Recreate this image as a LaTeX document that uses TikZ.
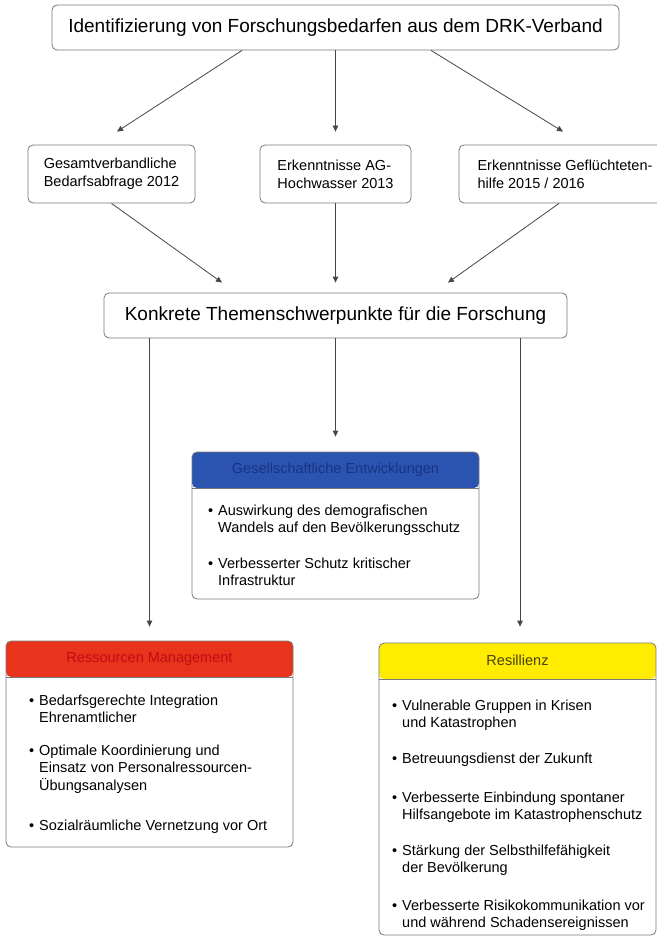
\documentclass[tikz,border=0pt]{standalone}
\usepackage{fontspec}
\setmainfont{Liberation Sans}
\usepackage{tikz}
\usetikzlibrary{arrows.meta, positioning, calc}

\definecolor{rahmen}{RGB}{120,120,120}
\definecolor{linie}{RGB}{70,70,70}
\definecolor{blau}{RGB}{42,84,176}
\definecolor{blaudunkel}{RGB}{24,52,130}
\definecolor{rot}{RGB}{232,52,28}
\definecolor{rotdunkel}{RGB}{190,12,20}
\definecolor{gelb}{RGB}{255,236,0}
\definecolor{gelbdunkel}{RGB}{70,66,10}

% Aufzaehlungspunkt mit haengendem Einzug
\newcommand{\eintrag}[1]{\llap{\textbullet\hspace{5pt}}\begin{tabular}[t]{@{}l@{}}#1\end{tabular}}

\tikzset{
  kasten/.style={draw=rahmen, line width=0.8pt, rounded corners=5pt, fill=white, inner sep=0pt},
  gross/.style={kasten, font=\fontsize{19}{23}\selectfont, minimum height=45},
  mittel/.style={kasten, align=left, font=\fontsize{14.5}{18}\selectfont, minimum height=58},
  kopf/.style={kasten, path picture={
      \fill[#1] (path picture bounding box.north west) rectangle ([yshift=-36pt]path picture bounding box.north east);
      \draw[rahmen, line width=0.8pt] ([yshift=-36pt]path picture bounding box.north west) -- ([yshift=-36pt]path picture bounding box.north east);}},
  kopftext/.style={font=\fontsize{14.5}{17}\selectfont},
  punkt/.style={anchor=base west, inner sep=0pt, font=\fontsize{14.5}{17.5}\selectfont},
  pfeil/.style={draw=linie, line width=0.8pt, -{Triangle[length=6pt,width=5.5pt]}}
}

\begin{document}
\begin{tikzpicture}[x=1pt, y=-1pt]
\useasboundingbox (0,0) rectangle (656,936);

% obere Ebene
\node[gross, minimum width=567] (top) at (335.5,27.5) {Identifizierung von Forschungsbedarfen aus dem DRK-Verband};

\node[mittel, minimum width=167] (gesamt) at (111.5,174) {Gesamtverbandliche\\Bedarfsabfrage 2012};
\node[mittel, minimum width=151] (hoch) at (335.5,174) {Erkenntnisse AG-\\Hochwasser 2013};
\node[mittel, minimum width=212] (gefl) at (565,174) {Erkenntnisse Geflüchteten-\\hilfe 2015 / 2016};

\node[gross, minimum width=463] (konkret) at (335.5,315.5) {Konkrete Themenschwerpunkte für die Forschung};

\draw[pfeil] ($(top.south)+(-93.5,0)$) -- ($(gesamt.north)+(5.5,-13)$);
\draw[pfeil] (top.south) -- ($(hoch.north)+(0,-13)$);
\draw[pfeil] ($(top.south)+(95.5,0)$) -- ($(gefl.north)+(-2,-13)$);

\draw[pfeil] (gesamt.south) -- ($(konkret.north)+(-113.5,-10)$);
\draw[pfeil] (hoch.south) -- ($(konkret.north)+(0,-10)$);
\draw[pfeil] ($(gefl.south)+(-6,0)$) -- ($(konkret.north)+(112.5,-10)$);

% Themenfelder
\node[kopf=blau, minimum width=287, minimum height=147] (gesell) at (335.5,525.5) {};
\node[kopftext, text=blaudunkel] at ($(gesell.north)+(0,18)$) {Gesellschaftliche Entwicklungen};
\node[punkt] at (218,515) {\eintrag{Auswirkung des demografischen\\Wandels auf den Bevölkerungsschutz}};
\node[punkt] at (218,568) {\eintrag{Verbesserter Schutz kritischer\\Infrastruktur}};

\node[kopf=rot, minimum width=287, minimum height=206] (ress) at (149.5,744) {};
\node[kopftext, text=rotdunkel] at ($(ress.north)+(0,18.5)$) {Ressourcen Management};
\node[punkt] at (39,705) {\eintrag{Bedarfsgerechte Integration\\Ehrenamtlicher}};
\node[punkt] at (39,755) {\eintrag{Optimale Koordinierung und\\Einsatz von Personalressourcen-\\Übungsanalysen}};
\node[punkt] at (39,830) {\eintrag{Sozialräumliche Vernetzung vor Ort}};

\node[kopf=gelb, minimum width=277, minimum height=292] (resil) at (517.5,789) {};
\node[kopftext, text=gelbdunkel] at ($(resil.north)+(0,18)$) {Resillienz};
\node[punkt] at (402,710) {\eintrag{Vulnerable Gruppen in Krisen\\und Katastrophen}};
\node[punkt] at (402,763) {\eintrag{Betreuungsdienst der Zukunft}};
\node[punkt] at (402,802) {\eintrag{Verbesserte Einbindung spontaner\\Hilfsangebote im Katastrophenschutz}};
\node[punkt] at (402,855) {\eintrag{Stärkung der Selbsthilfefähigkeit\\der Bevölkerung}};
\node[punkt] at (402,910) {\eintrag{Verbesserte Risikokommunikation vor\\und während Schadensereignissen}};

\draw[pfeil] ($(konkret.south)+(-186,0)$) -- ($(ress.north)+(0,-14)$);
\draw[pfeil] (konkret.south) -- ($(gesell.north)+(0,-15)$);
\draw[pfeil] ($(konkret.south)+(184.5,0)$) -- ($(resil.north)+(2.5,-16)$);
\end{tikzpicture}
\end{document}
